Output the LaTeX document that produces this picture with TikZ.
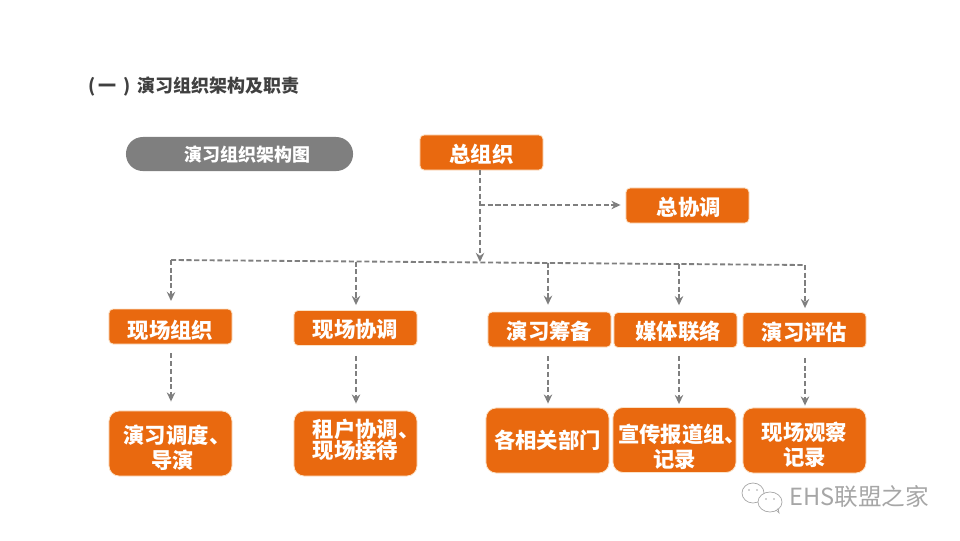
\documentclass[tikz,border=0pt]{standalone}
\usepackage{fontspec}
\usepackage{xcolor}
\usetikzlibrary{arrows.meta,shapes}
\setmainfont{Noto Sans CJK SC}
\definecolor{boxorange}{HTML}{E9690F}
\definecolor{boxglow}{HTML}{FBE3C8}
\definecolor{flowgray}{HTML}{7F7F7F}
\tikzset{
orgbox/.style={shape=rectangle,rounded corners=0.1cm,fill=boxorange,draw=boxglow,line width=0.6pt,inner sep=0pt,
  minimum width=3.075cm,minimum height=0.875cm,text=white,align=center,font=\fontsize{15.2}{18}\selectfont\bfseries,
  execute at begin node={\rule{0pt}{15pt}}},
lowbox/.style={orgbox,rounded corners=0.25cm,minimum height=1.625cm,execute at begin node={\rule{0pt}{17pt}}},
flow/.style={-{Stealth[length=6.5pt,width=6pt]},flowgray,line width=1.3pt,dash pattern=on 3.6pt off 1.9pt},
busline/.style={flowgray,line width=1.3pt,dash pattern=on 3.6pt off 1.9pt},
}
\begin{document}
\begin{tikzpicture}[x=0.025cm,y=-0.025cm]
\useasboundingbox(0,0)rectangle(960,540);
\node[text=black!75,font=\fontsize{12.8}{16}\selectfont\bfseries,anchor=west,inner sep=0pt](title)at(88,86.5){(\hspace{2pt}一\hspace{5pt})\hspace{5pt}演习组织架构及职责};
\node[shape=rectangle,rounded corners=0.42cm,fill=flowgray,minimum width=5.675cm,minimum height=0.85cm,inner sep=0pt](pill)at(239.5,154){};
\node[text=white,font=\fontsize{12.8}{15}\selectfont\bfseries](pilltext)at(247,155){演习组织架构图};

\node[orgbox](zong)at(481.5,152.5){总组织};
\node[orgbox](zongxt)at(687.5,205.5){\hspace{2pt}总协调};
\node[orgbox](xczz)at(170.5,326.5){\rule{0pt}{19pt}现场组织};
\node[orgbox](xcxt)at(355.5,328){现场协调};
\node[orgbox](ycb)at(549.5,329.5){演习筹备};
\node[orgbox](mtll)at(675.5,330){\hspace{4pt}媒体联络};
\node[orgbox](ypg)at(804.5,330){\rule{0pt}{17pt}演习评估};
\node[lowbox](ddbox)at(170.5,443.5){\rule{0pt}{19pt}演习调度\rlap{、}\hspace{6pt}\null\\\hspace{3pt}导演};
\node[lowbox](zhbox)at(355.5,443.5){租户协调\rlap{、}\\[-3.4pt]现场接待\rule[-7pt]{0pt}{7pt}};
\node[lowbox](bmbox)at(547.5,440.5){各相关部门\rule[-6pt]{0pt}{6pt}};
\node[lowbox](xcbox)at(674.5,440){\rule{0pt}{22.7pt}宣传报道组\rlap{、}\hspace{4.3pt}\null\\记录};
\node[lowbox](gcbox)at(804.5,440.5){\rule{0pt}{19pt}现场观察\\记录};

\coordinate(busa)at(171,260);
\coordinate(busb)at(356,261.5);
\coordinate(busz)at(480,262);
\coordinate(busc)at(548,262.5);
\coordinate(busd)at(679,263.5);
\coordinate(buse)at(805,265);
\coordinate(branch)at(480,205);

\draw[busline](busa)--(buse);
\draw[flow](zong.south-|busz)--(busz);
\draw[flow,shorten >=0.125cm](branch)--(zongxt.west|-branch);
\draw[flow,shorten >=0.19cm](busa)--(xczz.north-|busa);
\draw[flow,shorten >=0.125cm](busb)--(xcxt.north-|busb);
\draw[flow,shorten >=0.17cm](busc)--(ycb.north-|busc);
\draw[flow,shorten >=0.17cm](busd)--(mtll.north-|busd);
\draw[flow,shorten >=0.1cm](buse)--(ypg.north-|buse);
\draw[flow,shorten <=0.225cm,shorten >=0.225cm](xczz.south-|busa)--(ddbox.north-|busa);
\draw[flow,shorten <=0.25cm,shorten >=0.175cm](xcxt.south-|busb)--(zhbox.north-|busb);
\draw[flow,shorten <=0.225cm,shorten >=0.1cm](ycb.south-|busc)--(bmbox.north-|busc);
\draw[flow,shorten <=0.2cm,shorten >=0.075cm](mtll.south-|busd)--(xcbox.north-|busd);
\draw[flow,shorten <=0.25cm,shorten >=0.05cm](ypg.south-|buse)--(gcbox.north-|buse);

\node[text=black!35,font=\fontsize{16.8}{20}\selectfont,anchor=west,inner sep=0pt](mark)at(789,497){EHS联盟之家};
\draw[black!35,line width=0.5pt,fill=white](753,493)ellipse(11 and 10);
\draw[black!35,line width=0.5pt,fill=white](770,502)ellipse(12 and 10);
\draw[black!35,line width=0.5pt](776,510)--(779,513)--(778,508);
\fill[black!35](749,490)circle(0.9)(757,490)circle(0.9)(766,499)circle(0.9)(774,499)circle(0.9);
\end{tikzpicture}
\end{document}
